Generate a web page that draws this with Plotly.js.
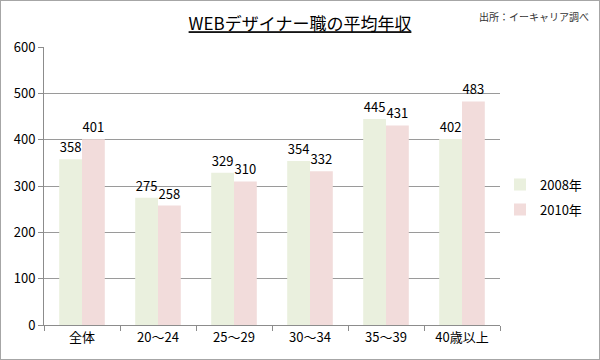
<!DOCTYPE html>
<html>
<head>
<meta charset="utf-8">
<script src="https://cdn.plot.ly/plotly-3.0.1.min.js"></script>
<style>
html,body{margin:0;padding:0;background:#fff;}
#chart{width:598px;height:358px;border:1px solid #a6a6a6;}
</style>
</head>
<body>
<div id="chart"></div>
<script>
const categories = ["全体", "20〜24", "25〜29", "30〜34", "35〜39", "40歳以上"];
const values2008 = [358, 275, 329, 354, 445, 402];
const values2010 = [401, 258, 310, 332, 431, 483];
const seriesNames = ["2008年", "2010年"];
const yTicks = [0, 100, 200, 300, 400, 500, 600];

const FONT = '"Noto Sans CJK JP", "Noto Sans", sans-serif';

const traces = [
  {type: 'bar', name: seriesNames[0], legendgroup: 'a', x: categories, y: values2008,
   marker: {color: '#eaf0de'}, text: values2008.map(String), textposition: 'outside',
   cliponaxis: false, textfont: {size: 13, color: '#000', family: FONT}},
  {type: 'bar', name: seriesNames[1], legendgroup: 'b', x: categories, y: values2010,
   marker: {color: '#f2dcdb'}, text: values2010.map(String), textposition: 'outside',
   cliponaxis: false, textfont: {size: 13, color: '#000', family: FONT}}
];

const layout = {
  width: 598, height: 358,
  margin: {l: 43, r: 94, t: 46, b: 34},
  paper_bgcolor: '#fff', plot_bgcolor: '#fff',
  font: {family: FONT, color: '#000', size: 13},
  title: {text: '<u>WEBデザイナー職の平均年収</u>', x: 0.5, xanchor: 'center', y: 0.935, yanchor: 'middle',
          font: {size: 17, family: FONT, color: '#000'}},
  barmode: 'group', bargap: 0.4, bargroupgap: 0,
  xaxis: {type: 'category', showline: true, linecolor: '#8c8c8c', linewidth: 1,
          ticks: 'outside', tickson: 'boundaries', ticklen: 5, tickcolor: '#8c8c8c',
          showgrid: false, tickfont: {size: 13, family: FONT}},
  yaxis: {range: [0, 600.5], tickvals: yTicks, ticktext: yTicks.map(String),
          showline: true, linecolor: '#8c8c8c', linewidth: 1,
          ticks: 'outside', ticklen: 5, tickcolor: '#8c8c8c',
          showgrid: true, gridcolor: '#9a9a9a', gridwidth: 1, zeroline: false,
          tickfont: {size: 13, family: FONT}},
  showlegend: true,
  legend: {x: 1.0, y: 0.46, xanchor: 'left', yanchor: 'middle', font: {size: 13, family: FONT},
           itemwidth: 30, traceorder: 'grouped', tracegroupgap: 5, bgcolor: 'rgba(0,0,0,0)'},
  annotations: [
    {text: '出所：イーキャリア調べ', xref: 'paper', yref: 'paper', x: 1.2, y: 1.11,
     xanchor: 'right', yanchor: 'middle', showarrow: false, font: {size: 10, color: '#333', family: FONT}}
  ]
};

Plotly.newPlot('chart', traces, layout, {displayModeBar: false, staticPlot: true});
</script>
</body>
</html>
